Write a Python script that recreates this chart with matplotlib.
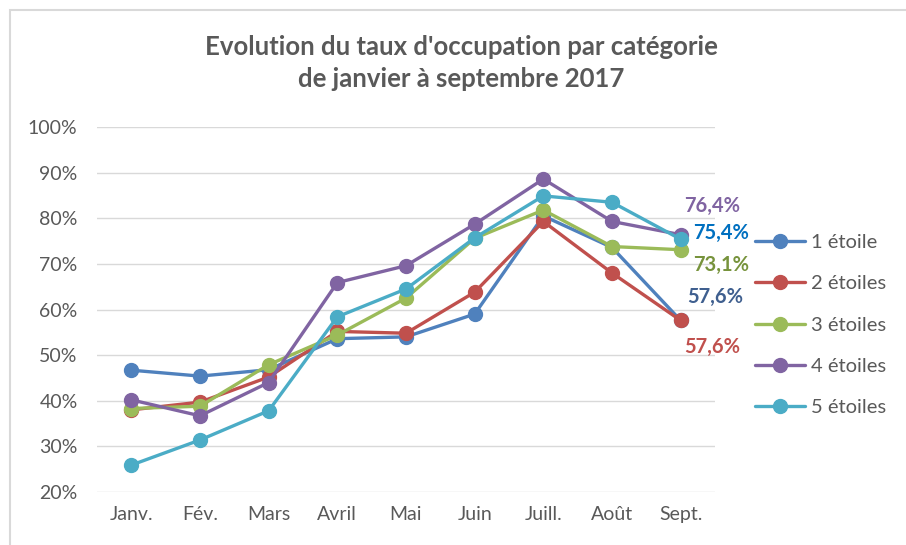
import matplotlib.pyplot as plt
from matplotlib.patches import Rectangle
from matplotlib.ticker import FuncFormatter, MultipleLocator

plt.rcParams['font.family'] = ['Lato', 'DejaVu Sans']

mois = ['Janv.', 'Fév.', 'Mars', 'Avril', 'Mai', 'Juin', 'Juill.', 'Août', 'Sept.']
etoile_1 = [46.7, 45.4, 46.8, 53.6, 54.0, 59.0, 80.5, 73.6, 57.6]
etoiles_2 = [38.0, 39.7, 45.2, 55.2, 54.8, 63.8, 79.3, 68.0, 57.6]
etoiles_3 = [38.3, 38.8, 47.9, 54.4, 62.5, 75.6, 81.8, 73.8, 73.1]
etoiles_4 = [40.2, 36.7, 44.0, 65.9, 69.6, 78.7, 88.6, 79.3, 76.4]
etoiles_5 = [25.9, 31.4, 37.8, 58.4, 64.5, 75.7, 84.9, 83.5, 75.4]

series = [
    ('1 étoile', etoile_1, '#4F81BD'),
    ('2 étoiles', etoiles_2, '#C0504D'),
    ('3 étoiles', etoiles_3, '#9BBB59'),
    ('4 étoiles', etoiles_4, '#8064A2'),
    ('5 étoiles', etoiles_5, '#4BACC6'),
]

# last-point labels: text colour and offset (points) from the marker
labels = {
    '1 étoile': ('#3F5F8F', (25, 17)),
    '2 étoiles': ('#C0504D', (23, -19)),
    '3 étoiles': ('#77933C', (29, -11)),
    '4 étoiles': ('#8064A2', (23, 21)),
    '5 étoiles': ('#0070C0', (29, 4.5)),
}

fig = plt.figure(figsize=(9.06, 5.45), dpi=100)
fig.patches.append(Rectangle((10 / 906, -0.01), 1.0, 1 - 10 / 545 + 0.01,
                             transform=fig.transFigure, fill=False,
                             edgecolor='#d9d9d9', linewidth=1.5))

ax = fig.add_axes([97 / 906, 53 / 545, 618 / 906, 365 / 545])

x = range(len(mois))
for name, vals, color in series:
    ax.plot(x, vals, color=color, linewidth=2.4, marker='o', markersize=10,
            label=name, solid_capstyle='round')

for name, vals, color in series:
    tcol, off = labels[name]
    ax.annotate(f'{vals[-1]:.1f}%'.replace('.', ','), (len(mois) - 1, vals[-1]),
                xytext=off, textcoords='offset points', color=tcol,
                fontsize=14.5, fontweight='bold', ha='center', va='center',
                annotation_clip=False)

ax.set_xlim(-0.5, len(mois) - 0.5)
ax.set_ylim(20, 100)
ax.yaxis.set_major_locator(MultipleLocator(10))
ax.yaxis.set_major_formatter(FuncFormatter(lambda v, p: f'{v:.0f}%'))
ax.set_xticks(list(x))
ax.set_xticklabels(mois)
ax.tick_params(length=0, labelsize=14, labelcolor='#595959', pad=10)
ax.tick_params(axis='y', pad=14)
ax.grid(axis='y', color='#d9d9d9', linewidth=1)
ax.set_axisbelow(True)
for s in ax.spines.values():
    s.set_visible(False)

fig.text(461 / 906, 1 - 47 / 545, "Evolution du taux d'occupation par catégorie",
         ha='center', va='center', fontsize=18.5, fontweight='bold', color='#595959')
fig.text(461 / 906, 1 - 79 / 545, 'de janvier à septembre 2017',
         ha='center', va='center', fontsize=18.5, fontweight='bold', color='#595959')

ax.legend(loc='center left', bbox_to_anchor=(747 / 906, 1 - 325 / 545),
          bbox_transform=fig.transFigure, frameon=False, fontsize=14.5,
          labelcolor='#595959', handlelength=2.5, labelspacing=1.2,
          handletextpad=0.3, borderaxespad=0)

fig.savefig('out.png', dpi=100)
